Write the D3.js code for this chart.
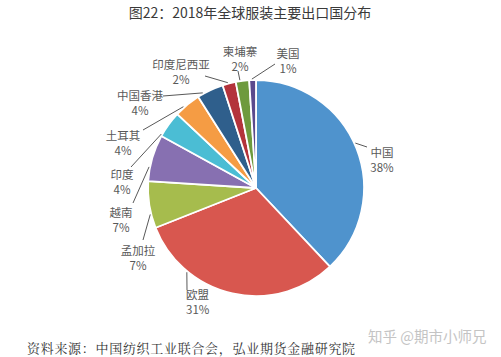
<!DOCTYPE html>
<html>
<head>
<meta charset="utf-8">
<script src="https://cdn.jsdelivr.net/npm/d3@7/dist/d3.min.js"></script>
<style>
  html, body { margin: 0; padding: 0; background: #fff; }
  svg { display: block; }
</style>
</head>
<body>
<svg id="chart" width="501" height="357"></svg>
<script>
// ---- data ----
const categories = ["中国", "欧盟", "孟加拉", "越南", "印度", "土耳其", "中国香港", "印度尼西亚", "柬埔寨", "美国"];
const values = [38, 31, 7, 7, 4, 4, 4, 2, 2, 1];
const valueLabels = ["38%", "31%", "7%", "7%", "4%", "4%", "4%", "2%", "2%", "1%"];
const titleText = "图22：2018年全球服装主要出口国分布";
const sourceText = "资料来源：中国纺织工业联合会，弘业期货金融研究院";
const watermarkText = "知乎 @期市小师兄";

// ---- styles / layout ----
const colors = ["#4f93cd", "#d8574f", "#a6bc4d", "#8770b1", "#4bbdd4", "#f59c44", "#2f5f8c", "#b3333b", "#6e9a3d", "#5b4a8d"];
// label layout: text centre (x, first-line y), leader start fraction within slice (t), leader end (ex, ey)
const labelLayout = [
  { x: 382, y: 152, t: 0.48, ex: 367, ey: 147 },
  { x: 197, y: 294, t: 0.74, ex: 187, ey: 290, align: "start", lx: 186 },
  { x: 138, y: 250, t: 0.30, ex: 143, ey: 240 },
  { x: 121, y: 212, t: 0.30, ex: 133, ey: 203 },
  { x: 122, y: 174, t: 0.06, ex: 131, ey: 167 },
  { x: 123, y: 135, t: 0.35, ex: 143, ey: 130 },
  { x: 140, y: 95, t: 0.22, ex: 163, ey: 96 },
  { x: 181, y: 64, t: 0.42, ex: 205, ey: 76 },
  { x: 240, y: 51, t: 0.32, ex: 238, ey: 71 },
  { x: 288, y: 53, t: 0.40, ex: 275, ey: 64 }
];
const cx = 256, cy = 188, R = 108;
const cjk = "'Noto Sans CJK SC', 'Microsoft YaHei', sans-serif";

const svg = d3.select("#chart");

// title
svg.append("text")
  .attr("x", 250).attr("y", 12)
  .attr("text-anchor", "middle").attr("dominant-baseline", "central")
  .style("font-family", cjk).style("font-size", "14px").style("fill", "#3a3a3a")
  .text(titleText);

const pie = d3.pie().sort(null).value(d => d).startAngle(0).endAngle(2 * Math.PI);
const arcs = pie(values);
const arc = d3.arc().innerRadius(0).outerRadius(R);

const g = svg.append("g").attr("transform", `translate(${cx},${cy})`);
g.selectAll("path.slice")
  .data(arcs)
  .join("path")
  .attr("class", "slice")
  .attr("d", arc)
  .attr("fill", (d, i) => colors[i])
  .attr("stroke", "#fff")
  .attr("stroke-width", 1.8)
  .attr("stroke-linejoin", "round");

// leader lines & labels
const lbl = svg.append("g");
arcs.forEach((d, i) => {
  const L = labelLayout[i];
  const a = d.startAngle + (d.endAngle - d.startAngle) * L.t;
  const sx = cx + (R + 1) * Math.sin(a);
  const sy = cy - (R + 1) * Math.cos(a);
  lbl.append("line")
    .attr("x1", sx).attr("y1", sy)
    .attr("x2", L.ex).attr("y2", L.ey)
    .attr("stroke", "#595959").attr("stroke-width", 1);
  const anchor = L.align || "middle";
  const tx = L.lx !== undefined ? L.lx : L.x;
  const t = lbl.append("text")
    .attr("text-anchor", anchor)
    .style("font-family", cjk).style("font-size", "11.5px").style("fill", "#595959");
  t.append("tspan").attr("x", tx).attr("y", L.y).attr("dominant-baseline", "central").text(categories[i]);
  t.append("tspan").attr("x", tx).attr("y", L.y + 14.5).attr("dominant-baseline", "central").text(valueLabels[i]);
});

// watermark
svg.append("text")
  .attr("x", 368).attr("y", 335)
  .attr("dominant-baseline", "central")
  .style("font-family", cjk).style("font-size", "14.5px").style("fill", "#c4c4c4")
  .text(watermarkText);

// source
svg.append("text")
  .attr("x", 27).attr("y", 347)
  .attr("dominant-baseline", "central")
  .style("font-family", "'Noto Serif CJK SC', 'Noto Sans CJK SC', serif")
  .style("font-size", "13px").style("letter-spacing", "0.7px").style("fill", "#333")
  .text(sourceText);
</script>
</body>
</html>
